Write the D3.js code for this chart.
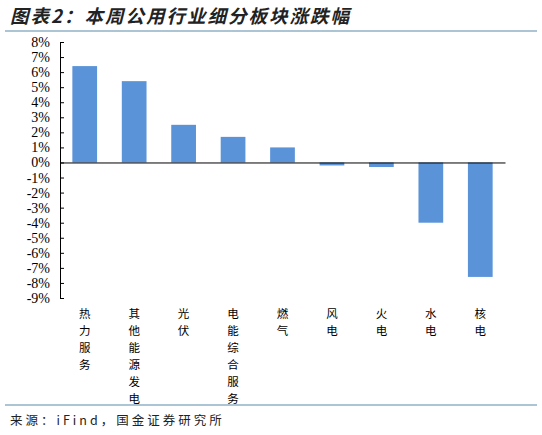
<!DOCTYPE html><html><head><meta charset="utf-8"><script src="https://cdn.jsdelivr.net/npm/d3@7"></script>
<style>body{margin:0;background:#fff}.yt text{font-family:"Liberation Serif","DejaVu Serif",serif !important}</style></head><body><svg id="c" width="542" height="435"></svg>
<script>
const categories=["热力服务","其他能源发电","光伏","电能综合服务","燃气","风电","火电","水电","核电"];
const values=[6.4,5.4,2.5,1.7,1.0,-0.2,-0.3,-4.0,-7.6];
const ticks=[8,7,6,5,4,3,2,1,0,-1,-2,-3,-4,-5,-6,-7,-8,-9];
const svg=d3.select("#c");
svg.append("text").attr("x",10).attr("y",23).attr("font-family","Noto Sans CJK SC").attr("font-weight","bold").attr("font-style","italic").attr("font-size",18.5).attr("letter-spacing",2).attr("fill","#222").text("图表2：本周公用行业细分板块涨跌幅");
svg.append("line").attr("x1",5).attr("x2",537).attr("y1",31).attr("y2",31).attr("stroke","#5a8caa").attr("stroke-width",1.2);
svg.append("line").attr("x1",5).attr("x2",537).attr("y1",405).attr("y2",405).attr("stroke","#5a8caa").attr("stroke-width",1.2);
svg.append("text").attr("x",10).attr("y",425).attr("font-family","Noto Sans CJK SC").attr("font-size",12.5).attr("letter-spacing",3).attr("fill","#222").text("来源：iFind，国金证券研究所");
const y=d3.scaleLinear().domain([-9,8]).range([298,42]);
const x=d3.scaleBand().domain(categories).range([60,505]).paddingInner(0.5).paddingOuter(0.25);
svg.selectAll("rect").data(values).join("rect").attr("x",(d,i)=>x(categories[i])).attr("width",x.bandwidth())
 .attr("y",d=>y(Math.max(0,d))).attr("height",d=>Math.abs(y(d)-y(0))).attr("fill","#5b93d8");
const ya=svg.append("g").attr("class","yt").attr("transform","translate(60,0)").call(d3.axisLeft(y).tickValues(ticks).tickSize(-4).tickPadding(10).tickFormat(d=>d+"%"));
ya.selectAll("text").attr("font-size",14).attr("fill","#000");
ya.selectAll("line,path").attr("stroke","#000");
const xa=svg.append("g").attr("transform",`translate(0,${y(0)})`).call(d3.axisBottom(x).tickSize(0).tickFormat(""));
xa.select("path").attr("stroke","#000");
categories.forEach(c=>{[...c].forEach((ch,j)=>svg.append("text").attr("font-family","Noto Sans CJK SC").attr("font-size",11.5).attr("fill","#000").attr("text-anchor","middle")
 .attr("x",x(c)+x.bandwidth()/2).attr("y",318+j*17).text(ch));});
</script></body></html>
